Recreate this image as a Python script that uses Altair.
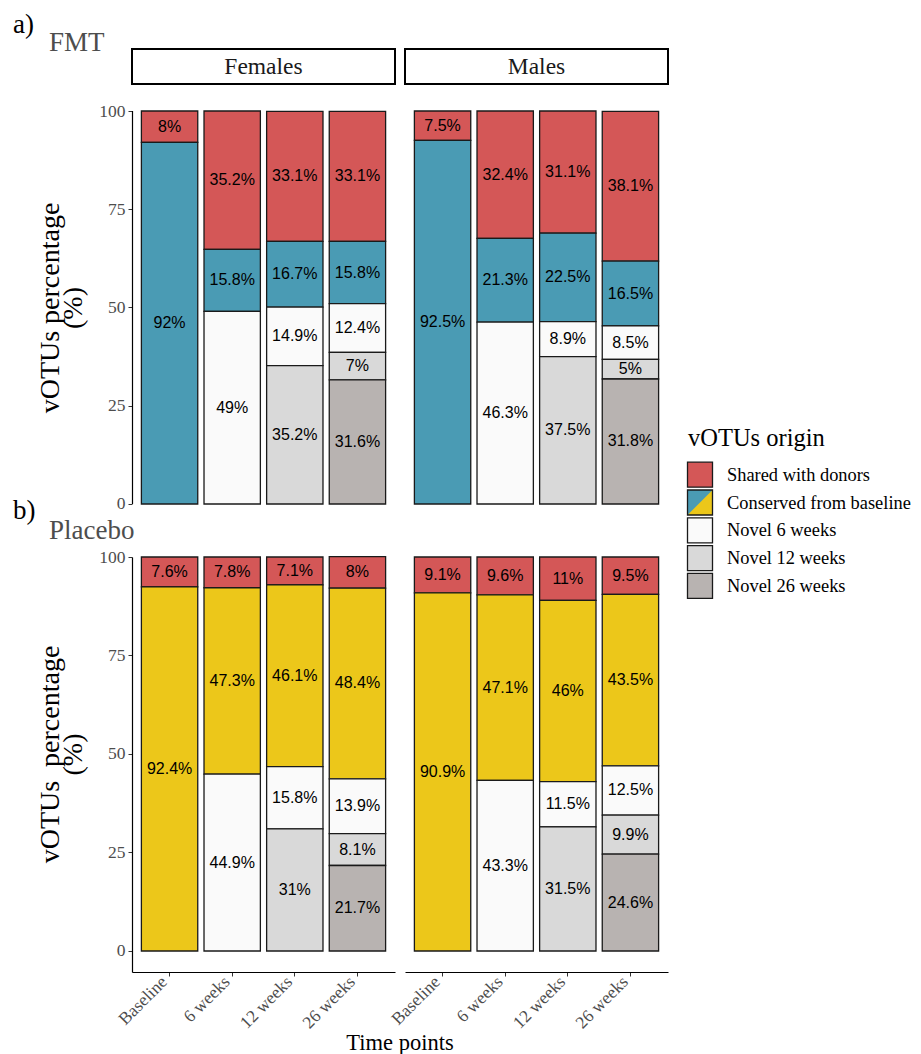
import altair as alt
import pandas as pd

timepoints = ["Baseline", "6 weeks", "12 weeks", "26 weeks"]
origins = ["Shared with donors", "Conserved from baseline", "Novel 6 weeks",
           "Novel 12 weeks", "Novel 26 weeks"]
sexes = ["Females", "Males"]

# FMT - Females
fmt_f_shared = [8, 35.2, 33.1, 33.1]
fmt_f_conserved = [92, 15.8, 16.7, 15.8]
fmt_f_novel6 = [None, 49, 14.9, 12.4]
fmt_f_novel12 = [None, None, 35.2, 7]
fmt_f_novel26 = [None, None, None, 31.6]
# FMT - Males
fmt_m_shared = [7.5, 32.4, 31.1, 38.1]
fmt_m_conserved = [92.5, 21.3, 22.5, 16.5]
fmt_m_novel6 = [None, 46.3, 8.9, 8.5]
fmt_m_novel12 = [None, None, 37.5, 5]
fmt_m_novel26 = [None, None, None, 31.8]
# Placebo - Females
pl_f_shared = [7.6, 7.8, 7.1, 8]
pl_f_conserved = [92.4, 47.3, 46.1, 48.4]
pl_f_novel6 = [None, 44.9, 15.8, 13.9]
pl_f_novel12 = [None, None, 31, 8.1]
pl_f_novel26 = [None, None, None, 21.7]
# Placebo - Males
pl_m_shared = [9.1, 9.6, 11, 9.5]
pl_m_conserved = [90.9, 47.1, 46, 43.5]
pl_m_novel6 = [None, 43.3, 11.5, 12.5]
pl_m_novel12 = [None, None, 31.5, 9.9]
pl_m_novel26 = [None, None, None, 24.6]

RED = "#D45757"
BLUE = "#4A9BB4"
YELLOW = "#ECC71A"
WHITE = "#FAFAFA"
LIGHT = "#D9D9D9"
DARK = "#B8B3B1"
fmt_colors = [RED, BLUE, WHITE, LIGHT, DARK]
pl_colors = [RED, YELLOW, WHITE, LIGHT, DARK]

SERIF = "Liberation Serif"
SANS = "Liberation Sans"
W = 263


def make_df(*series):
    rows = []
    n = len(origins)
    for oi, (origin, vals) in enumerate(zip(origins, series)):
        for t, v in zip(timepoints, vals):
            if v is None:
                continue
            rows.append({"time": t, "origin": origin, "value": v,
                         "rank": n - 1 - oi, "label": f"{v:g}%"})
    return pd.DataFrame(rows)


def note(text, x, y, size, color="black", align="left", baseline="alphabetic"):
    return alt.Chart(pd.DataFrame({"t": [text]})).mark_text(
        font=SERIF, fontSize=size, color=color, align=align, baseline=baseline
    ).encode(text="t:N", x=alt.value(x), y=alt.value(y))


def panel(df, colors, ydomain, height, show_y, show_x, ytitle, title_y, own_line=False, extra=()):
    xaxis = None
    if show_x:
        xaxis = alt.Axis(title=None, labelAngle=-45, labelAlign="right", labelBaseline="middle",
                         labelFont=SERIF, labelFontSize=17.5, labelColor="#4d4d4d",
                         labelOffset=-5, tickSize=4, tickColor="#333333", domainColor="black",
                         domainWidth=1.2, labelPadding=3, bandPosition=0.5, grid=False)
    yaxis = None
    if show_y:
        yaxis = alt.Axis(values=[0, 25, 50, 75, 100], title=ytitle,
                         titleFont=SERIF, titleFontSize=28, titleFontWeight="normal",
                         titleColor="black", titlePadding=11, titleLineHeight=23,
                         titleY=title_y,
                         labelFont=SERIF, labelFontSize=17.5, labelColor="#4d4d4d",
                         labelPadding=3, tickSize=4, tickColor="#333333",
                         domain=not own_line, domainColor="black", domainWidth=1.2, grid=False)
    xenc = alt.X("time:N", sort=timepoints,
                 scale=alt.Scale(domain=timepoints, paddingInner=0.1, paddingOuter=0.15),
                 axis=xaxis)
    yscale = alt.Scale(domain=ydomain, nice=False, zero=False)
    base = alt.Chart(df).transform_stack(
        stack="value", groupby=["time"], as_=["y0", "y1"],
        sort=[alt.SortField("rank", order="ascending")]
    ).transform_calculate(mid="(datum.y0 + datum.y1) / 2")
    bars = base.mark_bar(stroke="#1a1a1a", strokeWidth=1.3).encode(
        x=xenc,
        y=alt.Y("y0:Q", scale=yscale, axis=yaxis),
        y2="y1:Q",
        color=alt.Color("origin:N", scale=alt.Scale(domain=origins, range=colors), legend=None),
    )
    labels = base.mark_text(font=SANS, fontSize=16, color="black", baseline="middle").encode(
        x=xenc,
        y=alt.Y("mid:Q", scale=yscale, axis=yaxis),
        text="label:N",
    )
    layers = [bars, labels]
    if own_line:
        line = alt.Chart(pd.DataFrame({"lo": [0], "hi": [100]})).mark_rule(
            color="black", strokeWidth=1.2
        ).encode(x=alt.value(0.5), y=alt.Y("lo:Q", scale=yscale, axis=yaxis), y2="hi:Q")
        layers.append(line)
    layers.extend(extra)
    return alt.layer(*layers).properties(width=W, height=height)


def strip(label, extra=()):
    d = pd.DataFrame({"sex": [label]})
    sc = alt.Scale(paddingInner=0, paddingOuter=0)
    box = alt.Chart(d).mark_rect(fill="white", stroke="black", strokeWidth=2).encode(
        x=alt.X("sex:N", scale=sc, axis=None), y=alt.Y("sex:N", scale=sc, axis=None))
    txt = alt.Chart(d).mark_text(font=SERIF, fontSize=23.5, color="#1a1a1a", baseline="middle").encode(
        x=alt.X("sex:N", scale=sc, axis=None), y=alt.Y("sex:N", scale=sc, axis=None), text="sex:N")
    return alt.layer(box, txt, *extra).properties(width=W, height=35)


FMT_H = 419
FMT_DOMAIN = [-6.62, 100]
PL_H = 415
PL_DOMAIN = [-5.33, 100]
ytitle1 = ["vOTUs percentage", "(%)"]
ytitle2 = ["vOTUs\u00a0 percentage", "(%)"]

strip_f = strip(sexes[0], extra=(note("a)", -119, -16, 27), note("FMT", -83, 2, 27, color="#4d4d4d")))
strip_m = strip(sexes[1])

fmt_f = panel(make_df(fmt_f_shared, fmt_f_conserved, fmt_f_novel6, fmt_f_novel12, fmt_f_novel26),
              fmt_colors, FMT_DOMAIN, FMT_H, True, False, ytitle1, 196.5, own_line=True)
fmt_m = panel(make_df(fmt_m_shared, fmt_m_conserved, fmt_m_novel6, fmt_m_novel12, fmt_m_novel26),
              fmt_colors, FMT_DOMAIN, FMT_H, False, False, ytitle1, 196.5)
pl_f = panel(make_df(pl_f_shared, pl_f_conserved, pl_f_novel6, pl_f_novel12, pl_f_novel26),
             pl_colors, PL_DOMAIN, PL_H, True, True, ytitle2, 197,
             extra=(note("b)", -119, -38, 27), note("Placebo", -83, -18, 27, color="#4d4d4d"),
                    note("Time points", 268, 493, 22.5, align="center")))
pl_m = panel(make_df(pl_m_shared, pl_m_conserved, pl_m_novel6, pl_m_novel12, pl_m_novel26),
             pl_colors, PL_DOMAIN, PL_H, False, True, ytitle2, 197)

# manual legend (placed in the strip row's third column; positions relative to its top)
LX = 9
leg_df = pd.DataFrame({"entry": origins})
ysc = alt.Scale(type="point", domain=origins, range=[425.7, 536.9], padding=0)
yenc = alt.Y("entry:N", scale=ysc, axis=None)
leg_fill = alt.Chart(leg_df).mark_point(shape="square", size=625, filled=True, opacity=1).encode(
    x=alt.value(LX + 13), y=yenc,
    color=alt.Color("entry:N", scale=alt.Scale(domain=origins, range=fmt_colors), legend=None))
leg_tri = alt.Chart(leg_df).transform_filter(
    alt.datum.entry == origins[1]
).mark_point(shape="M1,-1L1,1L-1,1Z", size=625, filled=True, opacity=1, color=YELLOW).encode(
    x=alt.value(LX + 13), y=yenc)
leg_out = alt.Chart(leg_df).mark_point(shape="square", size=625, filled=False, opacity=1,
                                       stroke="#1a1a1a", strokeWidth=1.3).encode(
    x=alt.value(LX + 13), y=yenc)
leg_txt = alt.Chart(leg_df).mark_text(font=SERIF, fontSize=18.4, color="black", align="left",
                                      baseline="middle").encode(
    x=alt.value(LX + 40), y=yenc, text="entry:N")
leg_title = note("vOTUs origin", LX + 1, 397, 24.5)
legend = alt.layer(leg_fill, leg_tri, leg_out, leg_txt, leg_title).properties(width=30, height=35)

filler = alt.Chart(pd.DataFrame({"v": [0]})).mark_point(opacity=0).encode(
    x=alt.value(0), y=alt.value(0)).properties(width=1, height=1)

chart = alt.concat(
    strip_f, strip_m, legend,
    fmt_f, fmt_m, filler,
    pl_f, pl_m,
    columns=3, spacing=alt.RowColnumber(row=27, column=10), bounds="flush",
).resolve_scale(color="independent").properties(
    padding={"left": 5, "top": 3, "right": 0, "bottom": 0}
).configure_view(stroke=None).configure_axis(
    titleFont=SERIF, labelFont=SERIF
)

chart.save("out.html", embed_options={"renderer": "svg", "actions": False})
